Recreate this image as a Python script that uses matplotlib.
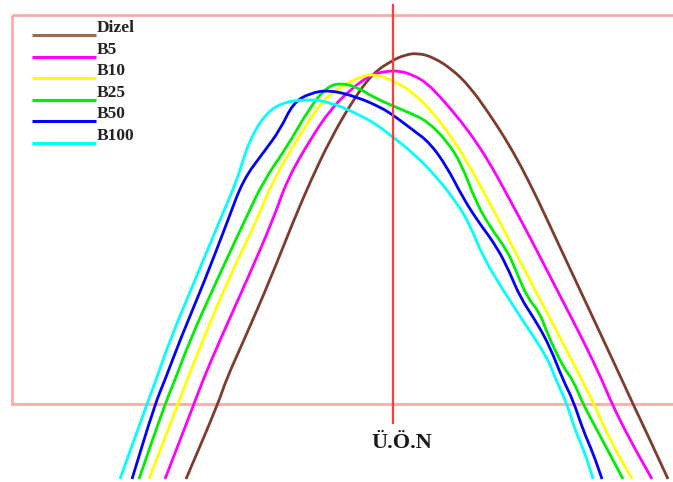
import matplotlib
matplotlib.use("Agg")
import matplotlib.pyplot as plt
from matplotlib.patches import Rectangle, PathPatch
from matplotlib.path import Path

# Cylinder pressure traces around top dead centre (drawing units, y grows downward)
series_names = ["Dizel", "B5", "B10", "B25", "B50", "B100"]
series_colors = ["#7f3b2c", "#ff00ff", "#ffff00", "#00ee00", "#0000ff", "#00ffff"]
legend_colors = ["#a06a48", "#ff00ff", "#ffff00", "#00ee00", "#0000ff", "#00ffff"]

dizel_x = [186, 218, 226, 244, 270, 293, 311, 330, 353, 373, 393, 405, 417, 433, 453, 470,
           488, 505, 521, 538, 558, 580, 602, 622, 633, 650, 668]
dizel_y = [479, 404, 380, 340, 280, 222, 180, 140, 100, 73, 60, 55, 53, 57, 70, 87,
           112, 138, 166, 200, 243, 290, 337, 380, 404, 440, 479]

b5_x = [165, 194, 203, 220, 247, 273, 287, 310, 330, 350, 370, 387, 400, 413, 427, 443,
        460, 477, 492, 510, 533, 557, 583, 602, 612, 630, 652]
b5_y = [479, 404, 380, 340, 280, 220, 180, 140, 110, 90, 75, 71, 71, 75, 83, 100,
        120, 143, 167, 200, 243, 290, 340, 380, 404, 440, 479]

b10_x = [149, 178, 187, 203, 228, 257, 273, 297, 320, 340, 360, 373, 393, 415, 435, 452,
         465, 487, 504, 520, 535, 551, 570, 582, 594, 610, 632]
b10_y = [479, 404, 380, 340, 280, 220, 180, 140, 103, 87, 77, 74, 80, 94, 115, 138,
         158, 198, 230, 261, 290, 320, 357, 380, 404, 440, 479]

b25_x = [139, 165, 175, 190, 217, 245, 264, 287, 310, 327, 340, 357, 373, 393, 410, 427,
         447, 462, 475, 490, 507, 517, 527, 540, 547, 563, 573, 583, 597, 623]
b25_y = [479, 404, 380, 340, 280, 220, 180, 147, 107, 87, 83, 87, 97, 106, 113, 121,
         141, 165, 200, 227, 250, 273, 297, 313, 333, 367, 380, 404, 430, 479]

b50_x = [132, 155, 165, 180, 205, 228, 243, 263, 280, 293, 310, 330, 357, 380, 393, 413,
         430, 447, 462, 477, 497, 510, 520, 537, 550, 563, 573, 583, 593, 602]
b50_y = [479, 404, 380, 340, 280, 220, 180, 153, 130, 103, 93, 90, 97, 107, 115, 130,
         143, 167, 196, 220, 247, 273, 297, 323, 347, 380, 400, 430, 453, 479]

b100_x = [120, 147, 156, 170, 195, 220, 237, 243, 250, 263, 280, 307, 330, 353, 373, 393,
          413, 435, 457, 470, 483, 503, 527, 547, 556, 567, 575, 585, 593]
b100_y = [479, 404, 380, 340, 280, 220, 180, 160, 140, 117, 103, 99, 102, 112, 122, 137,
          153, 175, 203, 225, 257, 290, 327, 357, 380, 404, 430, 453, 479]

series_x = [dizel_x, b5_x, b10_x, b25_x, b50_x, b100_x]
series_y = [dizel_y, b5_y, b10_y, b25_y, b50_y, b100_y]

tdc_x = 393
tdc_label = "Ü.Ö.N"


def smooth_path(xs, ys):
    """Quadratic Bezier path using the readings as control points."""
    pts = list(zip(xs, ys))
    verts = [pts[0]]
    codes = [Path.MOVETO]
    mid0 = ((pts[0][0] + pts[1][0]) / 2, (pts[0][1] + pts[1][1]) / 2)
    verts.append(mid0)
    codes.append(Path.LINETO)
    for i in range(1, len(pts) - 1):
        p, q = pts[i], pts[i + 1]
        verts += [p, ((p[0] + q[0]) / 2, (p[1] + q[1]) / 2)]
        codes += [Path.CURVE3, Path.CURVE3]
    verts.append(pts[-1])
    codes.append(Path.LINETO)
    return Path(verts, codes)


fig = plt.figure(figsize=(6.73, 4.82), dpi=100)
ax = fig.add_axes([0, 0, 1, 1])
ax.set_xlim(0, 673)
ax.set_ylim(482, 0)
ax.axis("off")

# plot frame
ax.add_patch(Rectangle((12, 15), 664, 389, fill=False, edgecolor="#ffaaaa",
                       linewidth=2.0, zorder=1))

# pressure traces
for xs, ys, c in zip(series_x, series_y, series_colors):
    ax.add_patch(PathPatch(smooth_path(xs, ys), facecolor="none", edgecolor=c,
                           linewidth=2.0, joinstyle="round", capstyle="butt", zorder=2))

# top dead centre marker
ax.plot([tdc_x, tdc_x], [5, 423], color="#ff3c3c", linewidth=1.6, zorder=3)
ax.text(tdc_x + 9, 443, tdc_label, ha="center", va="center",
        family="Liberation Serif", fontweight="bold", fontsize=16, color="#1a1a1a")

# legend
legend_y0 = 35
legend_dy = 21.6
for i, (name, c) in enumerate(zip(series_names, legend_colors)):
    ly = legend_y0 + i * legend_dy
    ax.plot([32, 96], [ly, ly], color=c, linewidth=2.2, solid_capstyle="butt", zorder=3)
    ax.text(97, ly - 3, name, ha="left", va="baseline", family="Liberation Serif",
            fontweight="bold", fontsize=12.5, color="#222222")

fig.savefig("out.png", dpi=100)
